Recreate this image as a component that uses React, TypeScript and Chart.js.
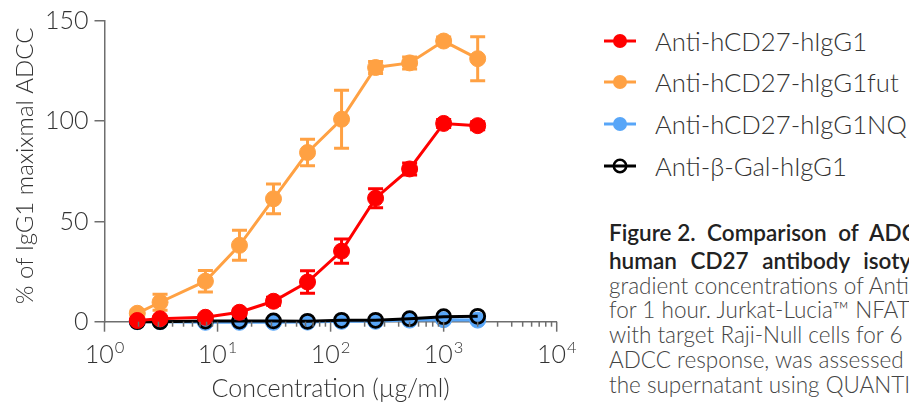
import React, { useEffect, useRef } from "react";
import { Chart, registerables } from "chart.js";

Chart.register(...registerables);

// ---- data ----
const concentrations = [1.95, 3.1, 7.81, 15.63, 31.25, 62.5, 125, 250, 500, 1000, 2000];
const hIgG1 = [0.6, 1.5, 2.2, 4.7, 10.2, 19.8, 35.2, 61.6, 76.2, 98.9, 97.8];
const hIgG1Err = [0.5, 0.5, 1, 1.5, 2, 5.6, 6.1, 4.7, 3, 2, 2];
const hIgG1fut = [4.2, 9.7, 20.2, 38.1, 61.3, 84.4, 101, 126.8, 129.1, 140, 131.2];
const hIgG1futErr = [1.5, 4, 5.4, 7.5, 7.4, 6.6, 14.5, 3, 3, 2, 11];
const hIgG1NQ = [0, 0, -0.3, -0.3, -0.3, -0.2, 0.2, 0.2, 0.8, 1.0, 0.8];
const betaGal = [0, 0, 0.3, 0.3, 0.4, 0.2, 0.7, 0.7, 1.5, 2.5, 2.7];
const xTickExponents = [0, 1, 2, 3, 4];
const yTickStep = 50;
const yMax = 150;
const seriesLabels = [
  "Anti-hCD27-hIgG1",
  "Anti-hCD27-hIgG1fut",
  "Anti-hCD27-hIgG1NQ",
  "Anti-\u03b2-Gal-hIgG1",
];
const seriesColors = ["#ff0000", "#ffa143", "#58a6f8", "#000000"];
const xTitle = "Concentration (\u00b5g/ml)";
const yTitle = "% of IgG1 maxixmal ADCC";
const captionHead = "Figure 2.";
const captionBold1 = "Comparison of ADCC activity of anti-";
const captionBold2 = "human CD27 antibody isotypes.";
const captionBody = [
  "gradient concentrations of Anti-hCD27 antibodies",
  "for 1 hour. Jurkat-Lucia\u2122 NFAT-CD16 cells were",
  "with target Raji-Null cells for 6 hours. The",
  "ADCC response, was assessed by measuring",
  "the supernatant using QUANTI-Luc\u2122.",
];

const AXIS = "#6e6e6e";
const TEXT = "#333333";
const FONT = "Lato";

const errorBarPlugin = {
  id: "errorBars",
  beforeDatasetsDraw(c: any) {
    const ctx = c.ctx;
    const ys = c.scales.y;
    c.data.datasets.forEach((ds: any, i: number) => {
      const errs = ds.errorValues;
      if (!errs) return;
      const meta = c.getDatasetMeta(i);
      ctx.save();
      ctx.strokeStyle = ds.borderColor;
      ctx.lineWidth = 3;
      meta.data.forEach((pt: any, j: number) => {
        const v = ds.data[j].y;
        const e = errs[j];
        const top = ys.getPixelForValue(v + e);
        const bot = ys.getPixelForValue(v - e);
        const x = pt.x;
        ctx.beginPath();
        ctx.moveTo(x, top);
        ctx.lineTo(x, bot);
        ctx.moveTo(x - 7.5, top);
        ctx.lineTo(x + 7.5, top);
        ctx.moveTo(x - 7.5, bot);
        ctx.lineTo(x + 7.5, bot);
        ctx.stroke();
      });
      ctx.restore();
    });
  },
};

const logAxisPlugin = {
  id: "logAxis",
  afterDraw(chart: any) {
    const ctx = chart.ctx;
    const xs = chart.scales.x;
    const y0 = chart.chartArea.bottom;
    ctx.save();
    ctx.strokeStyle = AXIS;
    ctx.lineWidth = 1.5;
    const first = xTickExponents[0];
    const last = xTickExponents[xTickExponents.length - 1];
    for (let e = first; e <= last; e++) {
      for (let m = 1; m <= 9; m++) {
        if (e === last && m > 1) break;
        const px = xs.getPixelForValue(m * Math.pow(10, e));
        const len = m === 1 ? 10 : 5;
        ctx.beginPath();
        ctx.moveTo(px, y0);
        ctx.lineTo(px, y0 + len);
        ctx.stroke();
      }
    }
    ctx.fillStyle = TEXT;
    ctx.textAlign = "left";
    ctx.textBaseline = "alphabetic";
    for (const e of xTickExponents) {
      const px = xs.getPixelForValue(Math.pow(10, e));
      ctx.font = `300 25px ${FONT}`;
      const w1 = ctx.measureText("10").width;
      ctx.font = `300 16.5px ${FONT}`;
      const w2 = ctx.measureText(String(e)).width;
      const start = px - (w1 + 1 + w2) / 2;
      ctx.font = `300 25px ${FONT}`;
      ctx.fillText("10", start, y0 + 41.6);
      ctx.font = `300 16.5px ${FONT}`;
      ctx.fillText(String(e), start + w1 + 1, y0 + 31.0);
    }
    ctx.restore();
  },
};

function LegendMarker({ color, hollow }: { color: string; hollow: boolean }) {
  return (
    <svg width="34" height="20" style={{ display: "block" }}>
      <line x1="1" y1="10" x2="33" y2="10" stroke={color} strokeWidth="3" />
      {hollow ? (
        <circle cx="17" cy="10" r="6.2" fill="none" stroke={color} strokeWidth="2.6" />
      ) : (
        <circle cx="17" cy="10" r="7" fill={color} />
      )}
    </svg>
  );
}

export default function App() {
  const ref = useRef<HTMLCanvasElement | null>(null);

  useEffect(() => {
    if (!ref.current) return;
    const mk = (i: number, data: number[], order: number, errs?: number[]) => {
      const hollow = i === 3;
      return {
        label: seriesLabels[i],
        data: data.map((v, j) => ({ x: concentrations[j], y: v })),
        borderColor: seriesColors[i],
        backgroundColor: hollow ? "rgba(0,0,0,0)" : seriesColors[i],
        pointBackgroundColor: hollow ? "rgba(0,0,0,0)" : seriesColors[i],
        pointBorderColor: seriesColors[i],
        pointBorderWidth: hollow ? 2.8 : 1,
        pointRadius: hollow ? 7 : 8,
        borderWidth: 3,
        tension: 0,
        clip: false,
        order,
        errorValues: errs,
      };
    };
    const datasets: any[] = [
      mk(0, hIgG1, 0, hIgG1Err),
      mk(1, hIgG1fut, 1, hIgG1futErr),
      mk(2, hIgG1NQ, 3),
      mk(3, betaGal, 2),
    ];
    const chart = new Chart(ref.current, {
      type: "line",
      data: { datasets },
      plugins: [errorBarPlugin, logAxisPlugin],
      options: {
        animation: false,
        responsive: false,
        devicePixelRatio: 1,
        layout: { padding: { top: 20, right: 43.3, left: 0, bottom: 0 } },
        plugins: {
          legend: { display: false },
          tooltip: { enabled: false },
        },
        scales: {
          x: {
            type: "logarithmic",
            min: 1,
            max: 10000,
            grid: { display: false },
            ticks: { display: false },
            border: { display: true, color: AXIS, width: 1.5 },
            title: {
              display: true,
              text: xTitle,
              color: TEXT,
              font: { family: FONT, size: 25, weight: "300" },
              padding: { top: 0, bottom: 0 },
            },
            afterFit: (s: any) => {
              s.height = 82.3;
            },
          },
          y: {
            type: "linear",
            min: 0,
            max: yMax,
            ticks: {
              stepSize: yTickStep,
              color: TEXT,
              padding: 6,
              font: { family: FONT, size: 25, weight: "300" },
            },
            grid: {
              drawOnChartArea: false,
              drawTicks: true,
              tickLength: 10,
              color: AXIS,
              lineWidth: 1.5,
            },
            border: { display: true, color: AXIS, width: 1.5 },
            title: {
              display: true,
              text: yTitle + " ",
              align: "end",
              color: TEXT,
              font: { family: FONT, size: 24, weight: "300" },
              padding: { top: 11, bottom: 0 },
            },
            afterFit: (s: any) => {
              s.width = 104.5;
            },
          },
        },
      } as any,
    });
    return () => chart.destroy();
  }, []);

  const rowTops = [40.7, 82.3, 124, 165.7];
  const boldStyle = { fontSize: 22.5, fontWeight: 600, color: "#222" } as const;

  return (
    <div
      style={{
        position: "absolute",
        left: 0,
        top: 0,
        width: 909,
        height: 404,
        overflow: "hidden",
        background: "#ffffff",
        fontFamily: FONT,
      }}
    >
      <canvas ref={ref} width={600} height={404} style={{ position: "absolute", left: 0, top: 0 }} />
      {seriesLabels.map((lab, i) => (
        <div
          key={lab}
          style={{
            position: "absolute",
            left: 603,
            top: rowTops[i] - 15,
            height: 30,
            display: "flex",
            alignItems: "center",
            whiteSpace: "nowrap",
          }}
        >
          <LegendMarker color={seriesColors[i]} hollow={i === 3} />
          <span style={{ marginLeft: 18, fontSize: 25.7, fontWeight: 300, color: TEXT, lineHeight: "30px" }}>
            {lab}
          </span>
        </div>
      ))}
      <div style={{ position: "absolute", left: 609, top: 218, whiteSpace: "nowrap" }}>
        <div style={{ ...boldStyle, lineHeight: "30px" }}>
          <span>{captionHead}</span>
          <span style={{ wordSpacing: 6 }}>{" " + captionBold1}</span>
        </div>
        <div style={{ ...boldStyle, lineHeight: "25.5px", wordSpacing: 8 }}>{captionBold2}</div>
        {captionBody.map((t) => (
          <div key={t} style={{ fontSize: 22.5, fontWeight: 300, color: "#444", lineHeight: "24.8px" }}>
            {t}
          </div>
        ))}
      </div>
    </div>
  );
}
